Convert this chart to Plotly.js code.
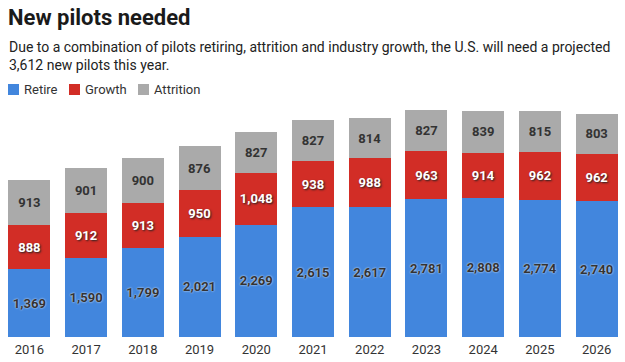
<!DOCTYPE html>
<html><head><meta charset="utf-8">
<script src="https://cdn.plot.ly/plotly-3.0.1.min.js"></script>
<style>html,body{margin:0;padding:0;background:#fff;}#chart{width:625px;height:362px;}</style>
</head><body><div id="chart"></div>
<script>
const years = ['2016','2017','2018','2019','2020','2021','2022','2023','2024','2025','2026'];
const retire = [1369,1590,1799,2021,2269,2615,2617,2781,2808,2774,2740];
const growth = [888,912,913,950,1048,938,988,963,914,962,962];
const attrition = [913,901,900,876,827,827,814,827,839,815,803];
const seriesNames = ['Retire','Growth','Attrition'];
const colors = ['#4286dd','#d22d26','#aaaaaa'];

const fmt = v => v.toLocaleString('en-US');
const font = 'Roboto, "Open Sans", sans-serif';
function tr(name, vals, color, txtColor, shadow){
  return {type:'bar', name:name, x:years, y:vals, marker:{color:color, line:{width:0}},
    text:vals.map(fmt), textposition:'inside', insidetextanchor:'middle', constraintext:'none',
    textfont:{family:font, size:13, color:txtColor, weight:700, shadow:shadow},
    hoverinfo:'skip', showlegend:false};
}
const data = [
  tr(seriesNames[0], retire, colors[0], '#333333', '0px 0px 2px #ffffff'),
  tr(seriesNames[1], growth, colors[1], '#ffffff', '1px 1px 2px #222222'),
  tr(seriesNames[2], attrition, colors[2], '#333333', 'none')
];
const layout = {
  width:625, height:362, barmode:'stack', bargap:0.26,
  margin:{l:1, r:0, t:109, b:25},
  paper_bgcolor:'#fff', plot_bgcolor:'#fff',
  xaxis:{type:'category', showgrid:false, zeroline:false, showline:false, ticks:'',
    ticklabelstandoff:3,
    tickfont:{family:font, size:13, color:'#333'}, automargin:false},
  yaxis:{range:[0,4600], visible:false, fixedrange:true},
  annotations:[], shapes:[]
};
function py(y){ return (362-25-y)/(362-109-25); }
function px(x){ return (x-1)/(625-1); }
layout.annotations.push({text:'<b>New pilots needed</b>', xref:'paper', yref:'paper', x:px(6), y:py(17), xanchor:'left', yanchor:'middle', showarrow:false, font:{family:font, size:22, color:'#1a1a1a'}});
layout.annotations.push({text:'Due to a combination of pilots retiring, attrition and industry growth, the U.S. will need a projected<br>3,612 new pilots this year.', xref:'paper', yref:'paper', x:px(7), y:py(56), xanchor:'left', yanchor:'middle', align:'left', showarrow:false, font:{family:font, size:14, color:'#222'}});
const legX = [8, 69, 138];
seriesNames.forEach((n,i)=>{
  layout.shapes.push({type:'rect', xref:'paper', yref:'paper', x0:px(legX[i]), x1:px(legX[i]+11), y0:py(95), y1:py(84), fillcolor:colors[i], line:{width:0}});
  layout.annotations.push({text:n, xref:'paper', yref:'paper', x:px(legX[i]+14), y:py(89.5), xanchor:'left', yanchor:'middle', showarrow:false, font:{family:font, size:13, color:'#333'}});
});
Plotly.newPlot('chart', data, layout, {displayModeBar:false, staticPlot:true});
</script></body></html>
